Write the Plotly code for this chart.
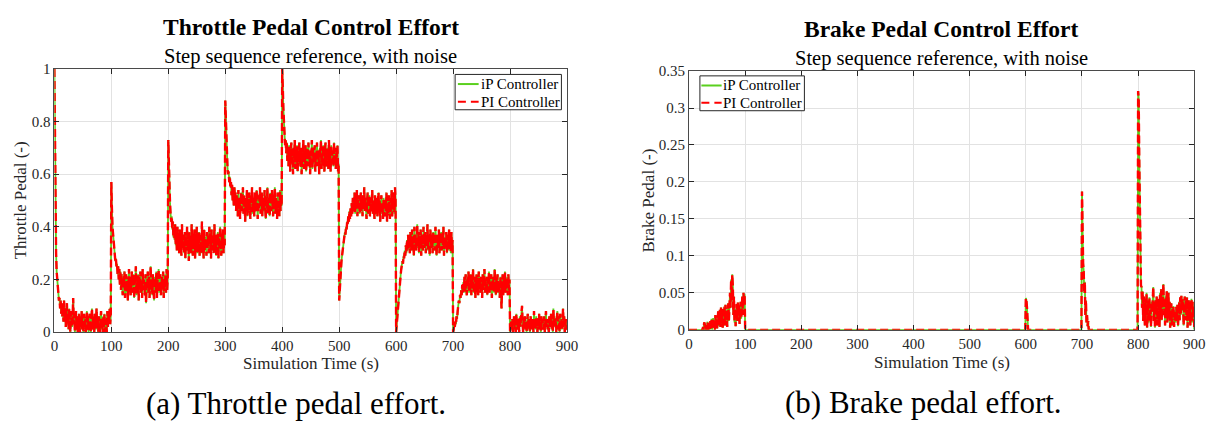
import plotly.graph_objects as go

W, H = 1228, 429

# ---------------- tick values / labels ----------------
time_ticks = [0, 100, 200, 300, 400, 500, 600, 700, 800, 900]
time_tick_labels = ["0", "100", "200", "300", "400", "500", "600", "700", "800", "900"]
throttle_ticks = [0, 0.2, 0.4, 0.6, 0.8, 1.0]
throttle_tick_labels = ["0", "0.2", "0.4", "0.6", "0.8", "1"]
brake_ticks = [0, 0.05, 0.1, 0.15, 0.2, 0.25, 0.3, 0.35]
brake_tick_labels = ["0", "0.05", "0.1", "0.15", "0.2", "0.25", "0.3", "0.35"]

# ---------------- throttle pedal (one sample per second) ----------------
THROTTLE_DT = 1
throttle_000 = [1.00, 0.62, 0.40, 0.30, 0.23, 0.19, 0.16, 0.14, 0.12, 0.13,
                0.09, 0.12, 0.07, 0.11, 0.06, 0.10, 0.04, 0.12, 0.05, 0.09,
                0.02, 0.08, 0.11, 0.03, 0.07, 0.01, 0.09, 0.04, 0.00, 0.06,
                0.08, 0.02, 0.05, 0.13, 0.03, 0.07, 0.00, 0.04, 0.08, 0.01,
                0.06, 0.00, 0.05, 0.07, 0.02, 0.00, 0.06, 0.03, 0.08, 0.01,
                0.04, 0.00, 0.07, 0.02, 0.05, 0.00, 0.03, 0.08, 0.01, 0.06,
                0.00, 0.04, 0.07, 0.02, 0.00, 0.05, 0.09, 0.01, 0.06, 0.03,
                0.00, 0.07, 0.04, 0.01, 0.09, 0.02, 0.05, 0.00, 0.06, 0.03,
                0.00, 0.05, 0.08, 0.01, 0.04, 0.00, 0.06, 0.02, 0.07, 0.00,
                0.05, 0.03, 0.00, 0.08, 0.02, 0.06, 0.04, 0.09, 0.03, 0.07]
throttle_100 = [0.57, 0.47, 0.40, 0.37, 0.34, 0.31, 0.30, 0.27, 0.28, 0.25,
                0.26, 0.22, 0.25, 0.20, 0.24, 0.18, 0.23, 0.16, 0.22, 0.19,
                0.14, 0.21, 0.17, 0.23, 0.13, 0.19, 0.22, 0.15, 0.20, 0.12,
                0.18, 0.24, 0.16, 0.21, 0.14, 0.19, 0.23, 0.15, 0.17, 0.22,
                0.13, 0.20, 0.18, 0.25, 0.14, 0.19, 0.16, 0.22, 0.12, 0.21,
                0.17, 0.23, 0.15, 0.19, 0.13, 0.24, 0.16, 0.20, 0.18, 0.14,
                0.22, 0.11, 0.19, 0.17, 0.23, 0.15, 0.21, 0.13, 0.18, 0.25,
                0.16, 0.20, 0.14, 0.22, 0.17, 0.12, 0.21, 0.19, 0.15, 0.23,
                0.13, 0.20, 0.17, 0.24, 0.15, 0.19, 0.22, 0.14, 0.18, 0.21,
                0.16, 0.23, 0.13, 0.20, 0.17, 0.22, 0.15, 0.24, 0.16, 0.21]
throttle_200 = [0.73, 0.62, 0.54, 0.49, 0.45, 0.42, 0.44, 0.39, 0.42, 0.36,
                0.40, 0.35, 0.41, 0.33, 0.38, 0.31, 0.40, 0.34, 0.37, 0.30,
                0.39, 0.33, 0.36, 0.29, 0.41, 0.32, 0.37, 0.35, 0.30, 0.38,
                0.28, 0.36, 0.33, 0.40, 0.31, 0.35, 0.27, 0.38, 0.32, 0.36,
                0.30, 0.41, 0.34, 0.29, 0.37, 0.32, 0.39, 0.28, 0.35, 0.33,
                0.40, 0.30, 0.36, 0.31, 0.38, 0.29, 0.34, 0.37, 0.30, 0.42,
                0.33, 0.35, 0.28, 0.39, 0.31, 0.36, 0.34, 0.29, 0.38, 0.32,
                0.37, 0.30, 0.40, 0.33, 0.35, 0.28, 0.39, 0.31, 0.36, 0.34,
                0.30, 0.41, 0.32, 0.37, 0.29, 0.35, 0.33, 0.38, 0.28, 0.36,
                0.31, 0.40, 0.34, 0.29, 0.37, 0.32, 0.39, 0.30, 0.35, 0.33]
throttle_300 = [0.88, 0.80, 0.72, 0.66, 0.62, 0.60, 0.61, 0.57, 0.59, 0.55,
                0.57, 0.52, 0.56, 0.50, 0.54, 0.48, 0.55, 0.51, 0.53, 0.46,
                0.52, 0.49, 0.44, 0.54, 0.47, 0.51, 0.43, 0.50, 0.53, 0.46,
                0.49, 0.55, 0.45, 0.52, 0.48, 0.42, 0.51, 0.47, 0.54, 0.44,
                0.50, 0.46, 0.53, 0.48, 0.43, 0.52, 0.49, 0.55, 0.45, 0.51,
                0.47, 0.44, 0.53, 0.50, 0.46, 0.54, 0.48, 0.43, 0.52, 0.47,
                0.50, 0.55, 0.45, 0.49, 0.53, 0.44, 0.51, 0.48, 0.46, 0.54,
                0.50, 0.43, 0.52, 0.47, 0.55, 0.45, 0.49, 0.51, 0.44, 0.53,
                0.48, 0.46, 0.54, 0.50, 0.44, 0.52, 0.47, 0.55, 0.45, 0.51,
                0.49, 0.43, 0.53, 0.47, 0.50, 0.44, 0.54, 0.46, 0.52, 0.48]
throttle_400 = [1.00, 0.93, 0.85, 0.78, 0.74, 0.71, 0.73, 0.68, 0.72, 0.65,
                0.70, 0.63, 0.71, 0.66, 0.61, 0.69, 0.72, 0.64, 0.67, 0.60,
                0.70, 0.66, 0.73, 0.62, 0.68, 0.65, 0.71, 0.61, 0.69, 0.64,
                0.72, 0.67, 0.63, 0.70, 0.60, 0.68, 0.66, 0.73, 0.62, 0.69,
                0.64, 0.71, 0.61, 0.67, 0.70, 0.63, 0.72, 0.65, 0.68, 0.60,
                0.69, 0.66, 0.73, 0.62, 0.70, 0.64, 0.67, 0.71, 0.61, 0.68,
                0.65, 0.72, 0.63, 0.69, 0.66, 0.60, 0.70, 0.67, 0.73, 0.62,
                0.68, 0.64, 0.71, 0.66, 0.61, 0.69, 0.72, 0.63, 0.67, 0.65,
                0.70, 0.62, 0.73, 0.66, 0.68, 0.61, 0.71, 0.64, 0.69, 0.67,
                0.63, 0.72, 0.65, 0.70, 0.62, 0.68, 0.66, 0.71, 0.61, 0.64]
throttle_500 = [0.12, 0.17, 0.21, 0.24, 0.27, 0.29, 0.31, 0.33, 0.35, 0.36,
                0.38, 0.37, 0.40, 0.39, 0.42, 0.41, 0.44, 0.42, 0.46, 0.43,
                0.47, 0.44, 0.49, 0.45, 0.51, 0.46, 0.48, 0.53, 0.45, 0.50,
                0.47, 0.54, 0.44, 0.51, 0.48, 0.52, 0.45, 0.49, 0.53, 0.46,
                0.50, 0.44, 0.52, 0.48, 0.55, 0.46, 0.51, 0.47, 0.43, 0.50,
                0.53, 0.45, 0.49, 0.52, 0.44, 0.48, 0.51, 0.46, 0.54, 0.45,
                0.50, 0.47, 0.43, 0.52, 0.48, 0.45, 0.51, 0.44, 0.49, 0.53,
                0.46, 0.50, 0.42, 0.48, 0.52, 0.45, 0.49, 0.43, 0.51, 0.47,
                0.44, 0.50, 0.46, 0.53, 0.42, 0.49, 0.45, 0.52, 0.47, 0.43,
                0.51, 0.46, 0.54, 0.44, 0.49, 0.47, 0.53, 0.45, 0.55, 0.50]
throttle_600 = [0.00, 0.03, 0.07, 0.10, 0.13, 0.16, 0.18, 0.20, 0.22, 0.24,
                0.25, 0.27, 0.26, 0.29, 0.28, 0.31, 0.29, 0.33, 0.30, 0.35,
                0.31, 0.37, 0.32, 0.36, 0.30, 0.38, 0.34, 0.31, 0.39, 0.33,
                0.36, 0.29, 0.40, 0.34, 0.37, 0.31, 0.35, 0.41, 0.32, 0.38,
                0.30, 0.36, 0.33, 0.39, 0.29, 0.37, 0.34, 0.31, 0.40, 0.35,
                0.32, 0.38, 0.30, 0.36, 0.34, 0.41, 0.31, 0.37, 0.33, 0.29,
                0.39, 0.35, 0.32, 0.37, 0.30, 0.38, 0.34, 0.36, 0.31, 0.40,
                0.33, 0.29, 0.37, 0.35, 0.32, 0.39, 0.30, 0.36, 0.34, 0.38,
                0.31, 0.37, 0.33, 0.40, 0.29, 0.36, 0.35, 0.32, 0.38, 0.30,
                0.37, 0.34, 0.31, 0.39, 0.33, 0.36, 0.30, 0.38, 0.32, 0.35]
throttle_700 = [0.00, 0.01, 0.03, 0.02, 0.04, 0.03, 0.06, 0.05, 0.08, 0.10,
                0.12, 0.11, 0.14, 0.13, 0.16, 0.14, 0.18, 0.15, 0.19, 0.16,
                0.21, 0.15, 0.22, 0.17, 0.14, 0.20, 0.18, 0.23, 0.15, 0.19,
                0.16, 0.22, 0.14, 0.20, 0.17, 0.24, 0.15, 0.19, 0.21, 0.13,
                0.18, 0.22, 0.16, 0.20, 0.14, 0.23, 0.17, 0.19, 0.15, 0.21,
                0.18, 0.13, 0.22, 0.16, 0.20, 0.24, 0.15, 0.19, 0.17, 0.21,
                0.14, 0.20, 0.18, 0.23, 0.15, 0.19, 0.16, 0.22, 0.13, 0.20,
                0.17, 0.21, 0.15, 0.24, 0.18, 0.14, 0.20, 0.16, 0.22, 0.15,
                0.19, 0.17, 0.13, 0.21, 0.16, 0.09, 0.18, 0.22, 0.14, 0.20,
                0.16, 0.23, 0.15, 0.19, 0.17, 0.21, 0.14, 0.22, 0.16, 0.20]
throttle_800 = [0.00, 0.02, 0.04, 0.01, 0.05, 0.00, 0.03, 0.06, 0.01, 0.04,
                0.00, 0.07, 0.02, 0.05, 0.01, 0.03, 0.00, 0.06, 0.02, 0.04,
                0.08, 0.10, 0.03, 0.00, 0.05, 0.02, 0.06, 0.01, 0.04, 0.00,
                0.03, 0.07, 0.01, 0.05, 0.02, 0.00, 0.06, 0.03, 0.04, 0.01,
                0.05, 0.00, 0.08, 0.02, 0.04, 0.01, 0.06, 0.03, 0.00, 0.05,
                0.02, 0.07, 0.01, 0.04, 0.00, 0.06, 0.03, 0.05, 0.01, 0.02,
                0.06, 0.00, 0.04, 0.08, 0.02, 0.05, 0.01, 0.03, 0.00, 0.06,
                0.04, 0.02, 0.07, 0.01, 0.05, 0.00, 0.09, 0.03, 0.06, 0.02,
                0.04, 0.00, 0.05, 0.08, 0.01, 0.06, 0.03, 0.00, 0.07, 0.02,
                0.05, 0.01, 0.04, 0.09, 0.02, 0.06, 0.00, 0.03, 0.05, 0.01]
throttle_900 = 0.02

# ---------------- brake pedal (one sample per second) ----------------
brake_early_t0 = 24
brake_early = [0.000, 0.004, 0.000, 0.010, 0.008, 0.000, 0.003, 0.000, 0.006, 0.011,
               0.000, 0.004, 0.009, 0.000, 0.012, 0.002, 0.015, 0.000, 0.010, 0.016,
               0.003, 0.013, 0.000, 0.020, 0.008, 0.014, 0.002, 0.018, 0.025, 0.005,
               0.020, 0.027, 0.004, 0.030, 0.012, 0.022, 0.003, 0.028, 0.018, 0.031,
               0.006, 0.034, 0.015, 0.026, 0.004, 0.030, 0.036, 0.012, 0.025, 0.050,
               0.030, 0.068, 0.040, 0.075, 0.060, 0.020, 0.045, 0.010, 0.028, 0.005,
               0.022, 0.035, 0.012, 0.037, 0.020, 0.033, 0.008, 0.030, 0.038, 0.015,
               0.032, 0.045, 0.020, 0.050, 0.035, 0.048, 0.000]
brake_600_t0 = 598
brake_600 = [0.000, 0.000, 0.043, 0.040, 0.030, 0.012, 0.000]
brake_700_t0 = 698
brake_700 = [0.000, 0.000, 0.187, 0.120, 0.090, 0.080, 0.050, 0.065, 0.020, 0.040,
             0.010, 0.020, 0.005, 0.012, 0.000]
brake_800_t0 = 799
brake_800 = [0.000,
             0.323, 0.312, 0.230, 0.140, 0.075, 0.060, 0.058, 0.030, 0.052, 0.012,
             0.045, 0.036, 0.006, 0.040, 0.020, 0.050, 0.003, 0.032, 0.040, 0.010,
             0.044, 0.016, 0.027, 0.004, 0.038, 0.024, 0.050, 0.058, 0.012, 0.033,
             0.003, 0.040, 0.026, 0.045, 0.006, 0.036, 0.020, 0.042, 0.004, 0.050,
             0.026, 0.055, 0.013, 0.039, 0.032, 0.062, 0.020, 0.038, 0.006, 0.045,
             0.026, 0.052, 0.010, 0.032, 0.050, 0.016, 0.038, 0.003, 0.026, 0.036,
             0.006, 0.028, 0.020, 0.032, 0.004, 0.024, 0.026, 0.010, 0.031, 0.016,
             0.034, 0.005, 0.026, 0.038, 0.013, 0.044, 0.020, 0.046, 0.026, 0.042,
             0.038, 0.006, 0.026, 0.045, 0.013, 0.040, 0.020, 0.044, 0.003, 0.032,
             0.040, 0.013, 0.038, 0.006, 0.036, 0.042, 0.010, 0.038, 0.016, 0.032,
             0.000]

series_names = ["iP Controller", "PI Controller"]

# ---------------- build series ----------------
throttle_segments = [throttle_000, throttle_100, throttle_200, throttle_300, throttle_400,
                     throttle_500, throttle_600, throttle_700, throttle_800]
thr_t, thr_v = [], []
for k, seg in enumerate(throttle_segments):
    for i, val in enumerate(seg):
        thr_t.append(100 * k + THROTTLE_DT * i)
        thr_v.append(val)
thr_t.append(900)
thr_v.append(throttle_900)

brk_t, brk_v = [0], [0.0]
for t0, seg in [(brake_early_t0, brake_early), (brake_600_t0, brake_600),
                (brake_700_t0, brake_700), (brake_800_t0, brake_800)]:
    for i, val in enumerate(seg):
        brk_t.append(t0 + i)
        brk_v.append(val)

GREEN = "#5ad01e"
RED = "#ff0000"
DASH = "8px,4px"
FONT = "Liberation Serif"
DARK = "#262626"


def px_x(p):
    return p / W


def px_y(p):
    return 1 - p / H


# plot areas in pixels
L = dict(x0=51, x1=570, yt=63.3, yb=336.7)
R = dict(x0=693.5, x1=1205, yt=65.5, yb=334.3)

fig = go.Figure()
for xa, ya, t, v in [("x", "y", thr_t, thr_v), ("x2", "y2", brk_t, brk_v)]:
    fig.add_trace(go.Scatter(x=t, y=v, mode="lines", name=series_names[0],
                             line=dict(color=GREEN, width=1.8), xaxis=xa, yaxis=ya,
                             showlegend=False))
    fig.add_trace(go.Scatter(x=t, y=v, mode="lines", name=series_names[1],
                             line=dict(color=RED, width=2.4, dash=DASH), xaxis=xa, yaxis=ya,
                             showlegend=False))

axis_common = dict(showline=True, linecolor="#4a4a4a", linewidth=1, mirror="ticks",
                   ticks="inside", ticklen=5, tickwidth=1, tickcolor=DARK,
                   showgrid=True, gridcolor="#e2e2e2", gridwidth=1, zeroline=False,
                   tickfont=dict(family=FONT, size=15, color=DARK))

fig.update_layout(
    width=W, height=H, margin=dict(l=0, r=0, t=0, b=0),
    paper_bgcolor="white", plot_bgcolor="white",
    font=dict(family=FONT, color=DARK),
    xaxis=dict(domain=[px_x(L["x0"]), px_x(L["x1"])], range=[0, 900],
               tickvals=time_ticks, ticktext=time_tick_labels, anchor="y", **axis_common),
    yaxis=dict(domain=[px_y(L["yb"]), px_y(L["yt"])], range=[0, 1],
               tickvals=throttle_ticks, ticktext=throttle_tick_labels, anchor="x", **axis_common),
    xaxis2=dict(domain=[px_x(R["x0"]), px_x(R["x1"])], range=[0, 900],
                tickvals=time_ticks, ticktext=time_tick_labels, anchor="y2", **axis_common),
    yaxis2=dict(domain=[px_y(R["yb"]), px_y(R["yt"])], range=[0, 0.35],
                tickvals=brake_ticks, ticktext=brake_tick_labels, anchor="x2", **axis_common),
)

annotations = []


def text(x, y, s, size, bold=False, angle=0, xanchor="center", color="black"):
    annotations.append(dict(
        x=px_x(x), y=px_y(y), xref="paper", yref="paper", showarrow=False,
        text=f"<b>{s}</b>" if bold else s, textangle=angle,
        xanchor=xanchor, yanchor="middle",
        font=dict(family=FONT, size=size, color=color)))


cxL = (L["x0"] + L["x1"]) / 2
cxR = (R["x0"] + R["x1"]) / 2
text(cxL, 19.5, "Throttle Pedal Control Effort", 23.5, bold=True)
text(cxL, 50, "Step sequence reference, with noise", 20.5)
text(cxR, 21.5, "Brake Pedal Control Effort", 23.5, bold=True)
text(cxR, 52, "Step sequence reference, with noise", 20.5)
text(cxL, 369, "Simulation Time (s)", 17, color=DARK)
text(cxR, 368, "Simulation Time (s)", 17, color=DARK)
text(17, (L["yt"] + L["yb"]) / 2, "Throttle Pedal (-)", 17, angle=-90, color=DARK)
text(652, (R["yt"] + R["yb"]) / 2, "Brake Pedal (-)", 17, angle=-90, color=DARK)
text(296, 411, "(a) Throttle pedal effort.", 31)
text(931, 410, "(b) Brake pedal effort.", 31)

shapes = []


def legend(bx0, bx1, by0, by1, rows, sx0, sx1, tx):
    shapes.append(dict(type="rect", xref="paper", yref="paper",
                       x0=px_x(bx0), x1=px_x(bx1), y0=px_y(by1), y1=px_y(by0),
                       line=dict(color=DARK, width=1), fillcolor="white", layer="above"))
    styles = [dict(color=GREEN, width=2), dict(color=RED, width=2, dash="8px,5px")]
    for (ry, name, st) in zip(rows, series_names, styles):
        shapes.append(dict(type="line", xref="paper", yref="paper",
                           x0=px_x(sx0), x1=px_x(sx1), y0=px_y(ry), y1=px_y(ry),
                           line=st, layer="above"))
        text(tx, ry, name, 15, xanchor="left")


legend(456.7, 564.3, 69, 105.7, [79, 97.3], 459.5, 480.5, 480.5)
legend(704.5, 810.3, 70.5, 106.7, [80.5, 98.3], 706, 726.5, 726)

fig.update_layout(annotations=annotations, shapes=shapes)
fig.write_html("out.html", config={"displayModeBar": False, "staticPlot": True},
               post_script="document.body.style.margin='0px';")
